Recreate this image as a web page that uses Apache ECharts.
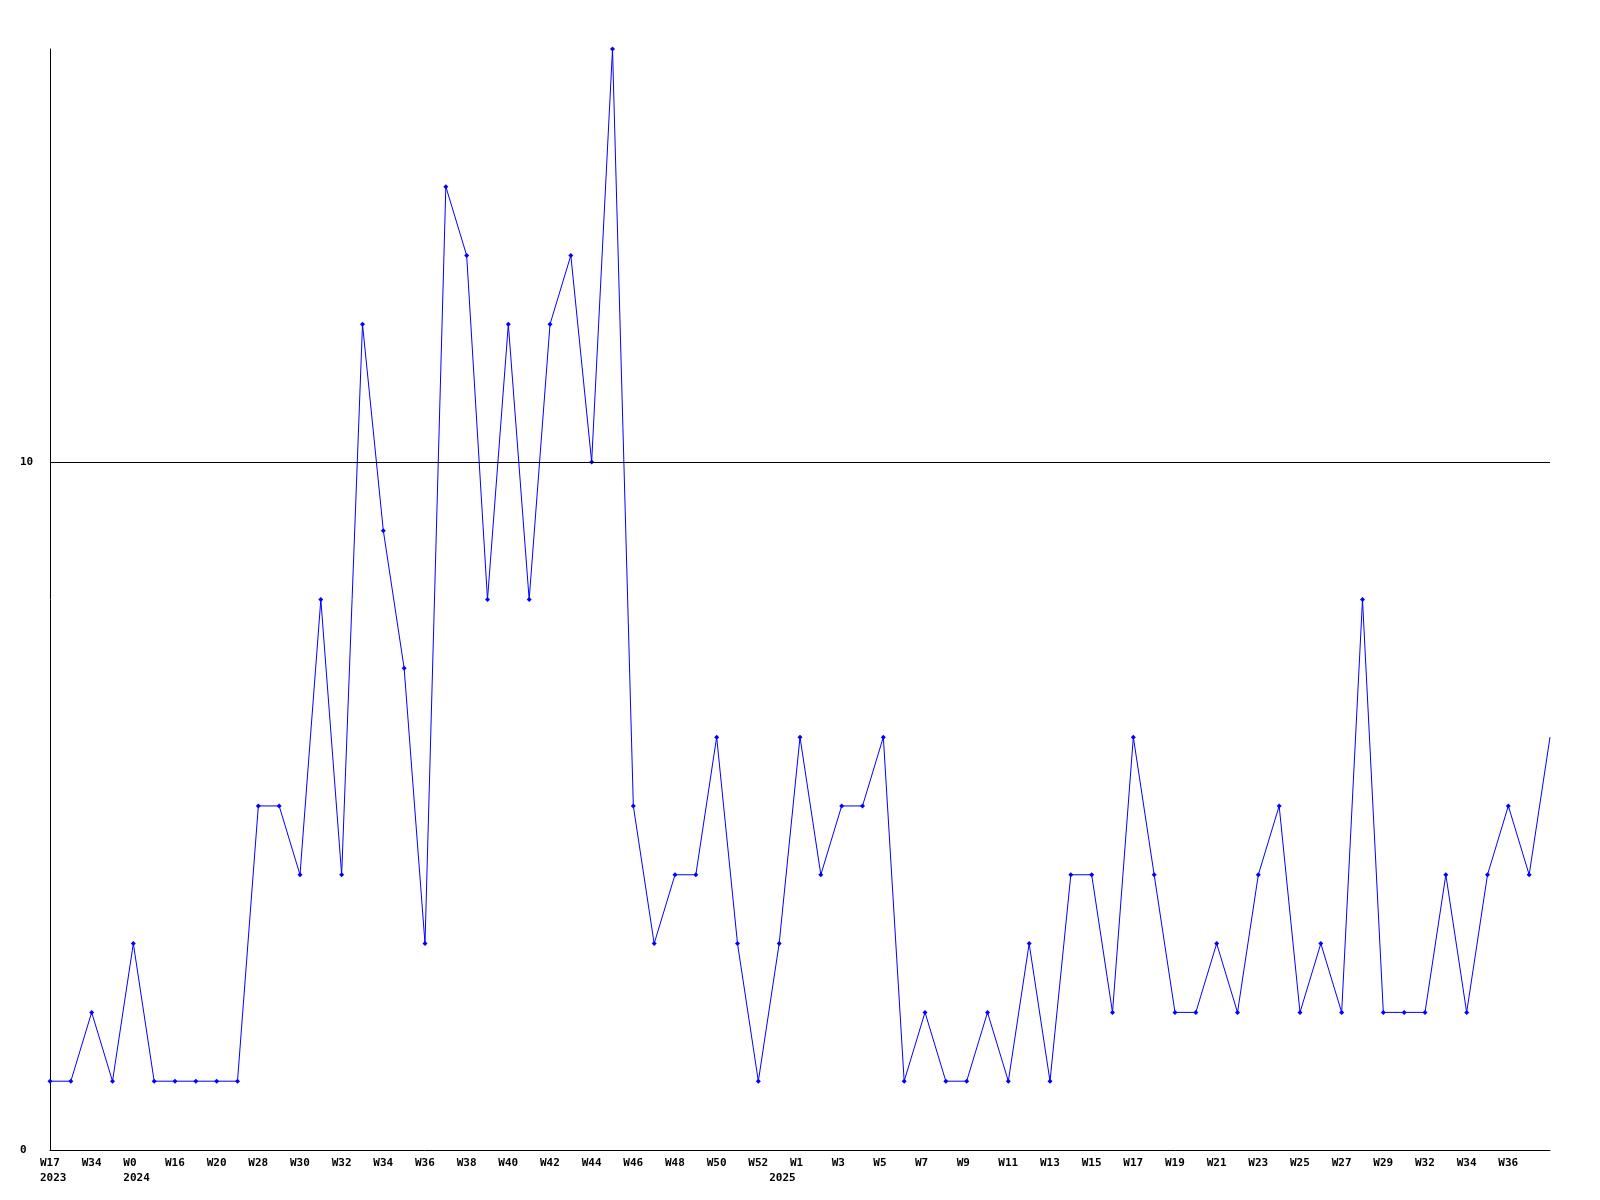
<!DOCTYPE html>
<html>
<head>
<meta charset="utf-8">
<script src="https://cdn.jsdelivr.net/npm/echarts@6/dist/echarts.min.js"></script>
<style>html,body{margin:0;padding:0;background:#fff;}#c{width:1600px;height:1200px;}</style>
</head>
<body>
<div id="c"></div>
<script>
const weeks = ['W17','W30','W34','W45','W0','W10','W16','W18','W20','W25',
  'W28','W29','W30','W31','W32','W33','W34','W35','W36','W37',
  'W38','W39','W40','W41','W42','W43','W44','W45','W46','W47',
  'W48','W49','W50','W51','W52','W0','W1','W2','W3','W4',
  'W5','W6','W7','W8','W9','W10','W11','W12','W13','W14',
  'W15','W16','W17','W18','W19','W20','W21','W22','W23','W24',
  'W25','W26','W27','W28','W29','W31','W32','W33','W34','W35',
  'W36','W37','W38'];
const yearLabels = {0:'2023', 4:'2024', 35:'2025'};
const values = [1,1,2,1,3,1,1,1,1,1,
  5,5,4,8,4,12,9,7,3,14,
  13,8,12,8,12,13,10,16,5,3,
  4,4,6,3,1,3,6,4,5,5,
  6,1,2,1,1,2,1,3,1,4,
  4,2,6,4,2,2,3,2,4,5,
  2,3,2,8,2,2,2,4,2,4,
  5,4,6];
const yTicks = [0, 10];
const yMax = 16;
const refLine = 10;

const font = '"DejaVu Sans Mono", monospace';
const lastIdx = values.length - 1;
const seriesData = values.map((v, i) => i === lastIdx ? {value: v, symbol: 'none'} : v);

const chart = echarts.init(document.getElementById('c'), null, {renderer: 'canvas'});
chart.setOption({
  animation: false,
  backgroundColor: '#ffffff',
  grid: {left: 50, right: 50, top: 49, bottom: 50, containLabel: false},
  xAxis: {
    type: 'category',
    data: weeks,
    boundaryGap: false,
    axisLine: {lineStyle: {color: '#000', width: 1}},
    axisTick: {show: false},
    splitLine: {show: false},
    axisLabel: {
      interval: 0,
      margin: 6,
      align: 'center',
      verticalAlign: 'top',
      formatter: function (val, idx) {
        const showWeek = idx % 2 === 0 && idx < lastIdx;
        const yr = yearLabels[idx];
        if (!showWeek && !yr) return '';
        let s = '{w|' + (showWeek ? val : ' ') + '}';
        if (yr) s += '\n{w|' + yr + '}';
        return s;
      },
      rich: {
        w: {
          width: 20,
          align: 'left',
          color: '#000',
          fontFamily: font,
          fontWeight: 'bold',
          fontSize: 11,
          lineHeight: 15
        }
      }
    }
  },
  yAxis: {
    type: 'value',
    min: yTicks[0],
    max: yMax,
    interval: yTicks[1] - yTicks[0],
    axisLine: {show: true, lineStyle: {color: '#000', width: 1}},
    axisTick: {show: false},
    splitLine: {show: false},
    axisLabel: {
      showMaxLabel: false,
      margin: 30,
      align: 'left',
      color: '#000',
      fontFamily: font,
      fontWeight: 'bold',
      fontSize: 11
    }
  },
  series: [{
    type: 'line',
    data: seriesData,
    symbol: 'diamond',
    symbolSize: 5,
    showAllSymbol: true,
    lineStyle: {color: '#0000ff', width: 1},
    itemStyle: {color: '#0000ff'},
    markLine: {
      silent: true,
      symbol: 'none',
      label: {show: false},
      lineStyle: {color: '#000', width: 1, type: 'solid'},
      data: [{yAxis: refLine}]
    }
  }]
});
</script>
</body>
</html>
